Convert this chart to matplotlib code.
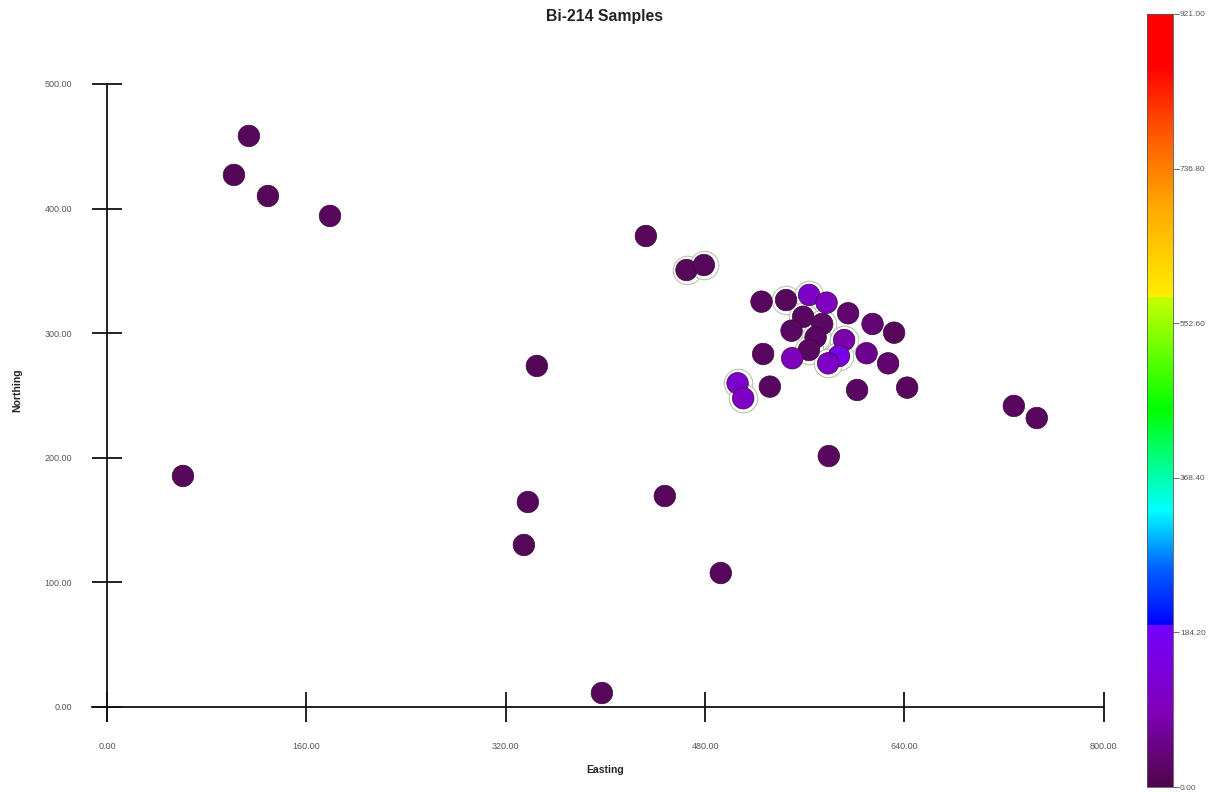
import matplotlib
matplotlib.use("Agg")
import matplotlib.pyplot as plt
import numpy as np
from matplotlib.colors import LinearSegmentedColormap, Normalize

plt.rcParams['font.family'] = ['Liberation Sans', 'DejaVu Sans']

# ---- data ----
easting = [113.9, 101.9, 129.2, 179.0, 61.0, 345.0, 337.8, 334.6, 397.2, 432.5,
           465.1, 479.0, 447.7, 492.6, 525.3, 545.0, 563.5, 577.5, 594.8, 614.4,
           631.7, 558.7, 549.4, 574.0, 568.7, 563.3, 591.6, 587.4, 578.8, 549.9,
           526.6, 609.6, 626.9, 602.0, 642.2, 532.0, 506.1, 510.6, 579.3, 727.8,
           746.2]
northing = [458.3, 427.0, 410.1, 394.1, 185.4, 273.7, 164.5, 130.0, 11.2, 378.0,
            350.7, 354.7, 169.3, 107.5, 325.3, 326.6, 330.7, 324.5, 316.0, 307.4,
            300.4, 313.2, 302.0, 307.4, 296.7, 286.5, 294.5, 281.7, 275.8, 279.9,
            283.3, 283.9, 275.8, 254.4, 256.3, 257.1, 259.8, 247.8, 201.4, 241.6,
            231.9]
bi214 = [15, 12, 14, 16, 15, 12, 14, 13, 15, 14,
         14, 16, 15, 14, 18, 16, 115, 100, 30, 35,
         15, 20, 22, 25, 20, 18, 80, 155, 110, 95,
         18, 55, 30, 20, 18, 20, 120, 110, 18, 20,
         18]
halo = [False, False, False, False, False, False, False, False, False, False,
        True, True, False, False, False, True, True, False, False, False,
        False, True, False, True, True, True, True, True, True, False,
        False, False, False, False, False, False, True, True, False, False,
        False]
cbar_ticks = [0.0, 184.2, 368.4, 552.6, 736.8, 921.0]
x_ticks = [0, 160, 320, 480, 640, 800]
y_ticks = [0, 100, 200, 300, 400, 500]
vmax = 921.0

# ---- colormap (rainbow with steps) ----
def f(v):
    return v / vmax
stops = [
    (0.0, '#4e0848'),
    (f(90), '#8000b8'),
    (f(192.9), '#7400ff'),
    (f(193.0), '#0000ff'),
    (f(260), '#0060ff'),
    (f(330), '#00ffff'),
    (f(450), '#00ff00'),
    (f(583.9), '#c8ff00'),
    (f(584.0), '#ffee00'),
    (f(690), '#ffaa00'),
    (f(780), '#ff5500'),
    (f(860), '#ff0000'),
    (1.0, '#ff0000'),
]
cmap = LinearSegmentedColormap.from_list('bi', stops, N=1024)
norm = Normalize(0, vmax)

fig = plt.figure(figsize=(12.14, 7.92), dpi=100)
ax = fig.add_axes([0.0727, 0.0759, 0.8468, 0.8338])
ax.set_xlim(-15, 810)
ax.set_ylim(-20, 510)

e = np.array(easting); n = np.array(northing); v = np.array(bi214); h = np.array(halo)
ax.scatter(e[h], n[h], s=420, facecolor='white', edgecolor='#b9c4b0', linewidths=0.8, zorder=2)
ax.scatter(e, n, c=v, cmap=cmap, norm=norm, s=240, edgecolor='#3a0a3a', linewidths=0.5, zorder=3)

for s in ['top', 'right']:
    ax.spines[s].set_visible(False)
ax.spines['left'].set_position(('data', 0))
ax.spines['bottom'].set_position(('data', 0))
ax.spines['left'].set_bounds(-11, 500)
ax.spines['bottom'].set_bounds(-12, 800)
for s in ['left', 'bottom']:
    ax.spines[s].set_linewidth(1.3)
    ax.spines[s].set_color('#111111')
ax.set_xticks(x_ticks)
ax.set_yticks(y_ticks)
ax.set_xticklabels([f"{t:.2f}" for t in x_ticks])
ax.set_yticklabels([f"{t:.2f}" for t in y_ticks])
ax.tick_params(direction='inout', length=22, width=1.3, color='#111111',
               labelsize=6.5, labelcolor='#555555')
ax.tick_params(axis='y', pad=14)
ax.tick_params(axis='x', pad=14)

fig.text(605/1214, 1 - 770/792, 'Easting', ha='center', va='center', fontsize=7.5, fontweight='bold', color='#222222')
fig.text(17/1214, 1 - 390/792, 'Northing', ha='center', va='center', rotation=90, fontsize=7.5, fontweight='bold', color='#222222')
fig.text(605/1214, 1 - 17/792, 'Bi-214 Samples', ha='center', va='center', fontsize=11.3, fontweight='bold', color='#222222')

cax = fig.add_axes([1147/1214, 1 - 787/792, 26/1214, 773/792])
cb = fig.colorbar(plt.cm.ScalarMappable(norm=norm, cmap=cmap), cax=cax)
cb.set_ticks(cbar_ticks)
cb.set_ticklabels([f"{t:.2f}" for t in cbar_ticks])
cb.outline.set_linewidth(0.6)
cb.outline.set_edgecolor('#555555')
cax.tick_params(length=4, width=0.6, color='#555555', labelsize=6, labelcolor='#555555', pad=1)

fig.savefig('out.png', dpi=100, facecolor='white')
